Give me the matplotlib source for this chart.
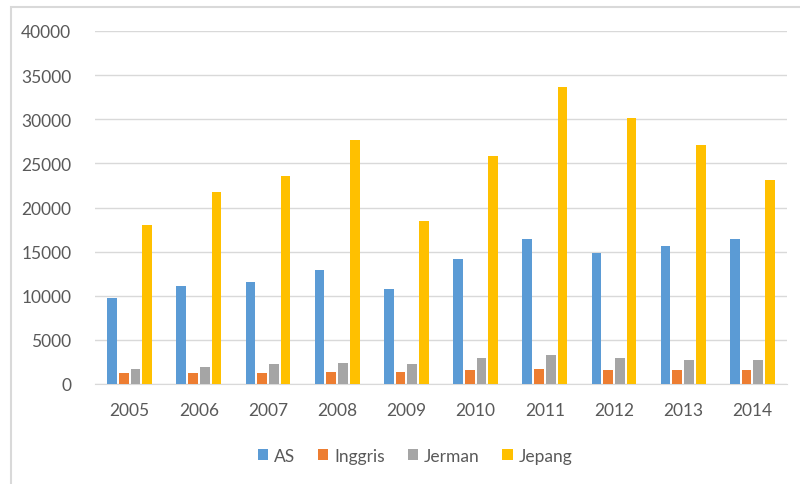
import matplotlib
matplotlib.use("Agg")
import matplotlib.pyplot as plt
import numpy as np
from matplotlib.patches import Rectangle

years = ["2005", "2006", "2007", "2008", "2009", "2010", "2011", "2012", "2013", "2014"]
as_vals = [9800, 11100, 11600, 12900, 10800, 14200, 16400, 14900, 15600, 16400]
inggris = [1200, 1300, 1300, 1400, 1400, 1550, 1700, 1550, 1550, 1550]
jerman = [1700, 1950, 2300, 2400, 2300, 2900, 3250, 3000, 2750, 2750]
jepang = [18000, 21700, 23600, 27700, 18500, 25800, 33600, 30100, 27100, 23100]
series_names = ["AS", "Inggris", "Jerman", "Jepang"]
colors = ["#5B9BD5", "#ED7D31", "#A5A5A5", "#FFC000"]

plt.rcParams['font.family'] = ['Lato', 'DejaVu Sans']
fig = plt.figure(figsize=(8, 4.85), dpi=100)
ax = fig.add_axes([95/800, (485-385)/485, (787-95)/800, (385-32)/485])

x = np.arange(len(years))
slot = 0.17
bw = 0.14
all_series = [as_vals, inggris, jerman, jepang]
for i, (vals, name, c) in enumerate(zip(all_series, series_names, colors)):
    ax.bar(x + (i - 1.5) * slot, vals, width=bw, color=c, label=name, zorder=3)

ax.set_xlim(-0.5, len(years) - 0.5)
ax.set_ylim(0, 40000)
ax.set_yticks(range(0, 40001, 5000))
ax.set_xticks(x)
ax.set_xticklabels(years)
ax.grid(axis='y', color='#D9D9D9', linewidth=1, zorder=0)
for s in ['top', 'right', 'left']:
    ax.spines[s].set_visible(False)
ax.spines['bottom'].set_color('#D9D9D9')
ax.tick_params(axis='both', length=0, labelsize=12.5, colors='#595959')
ax.tick_params(axis='x', pad=13)
ax.tick_params(axis='y', pad=17)

leg = fig.legend(loc='center', bbox_to_anchor=(0.519, 1 - 457/485), ncol=4, frameon=False,
                 fontsize=12.5, handlelength=0.6, handleheight=0.6, columnspacing=1.3,
                 handletextpad=0.35)
for t in leg.get_texts():
    t.set_color('#595959')

fig.patches.append(Rectangle((11/800, -0.1), 1.1, 1 - 8/485 + 0.1, transform=fig.transFigure,
                             fill=False, edgecolor='#D9D9D9', linewidth=1.5, zorder=0))

fig.savefig("out.png", dpi=100)
